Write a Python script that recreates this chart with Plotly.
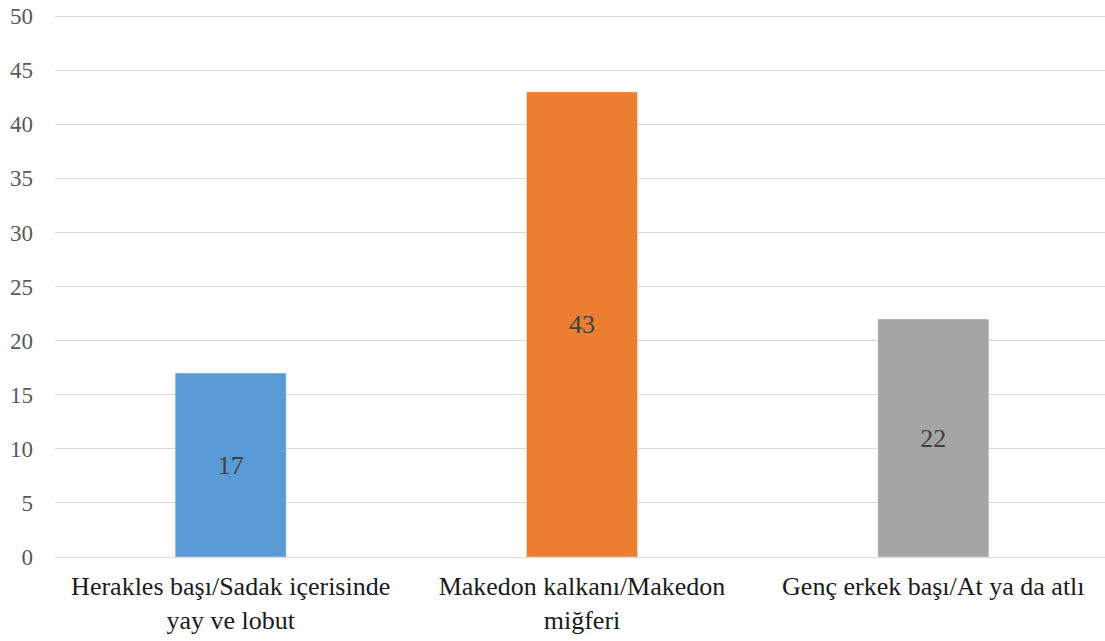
import plotly.graph_objects as go

categories = ["Herakles başı/Sadak içerisinde<br>yay ve lobut",
              "Makedon kalkanı/Makedon<br>miğferi",
              "Genç erkek başı/At ya da atlı"]
values = [17, 43, 22]
colors = ["#5B9BD5", "#ED7D31", "#A5A5A5"]
y_ticks = [0, 5, 10, 15, 20, 25, 30, 35, 40, 45, 50]

FONT = "Times New Roman"

fig = go.Figure(go.Bar(
    x=categories, y=values, marker_color=colors,
    text=[str(v) for v in values], textposition="inside",
    insidetextanchor="middle",
    textfont=dict(family=FONT, size=26, color="#404040"),
    hoverinfo="skip",
))

fig.update_layout(
    width=1113, height=641,
    margin=dict(l=55, r=4, t=14, b=84),
    paper_bgcolor="white", plot_bgcolor="white",
    bargap=0.684, showlegend=False,
    font=dict(family=FONT),
)
fig.update_yaxes(range=[0, 50.2], tickvals=y_ticks, showgrid=True,
                 gridcolor="#D9D9D9", gridwidth=1, zeroline=False,
                 showline=False, ticks="", ticklabelstandoff=21,
                 automargin=False, ticklabeloverflow="allow",
                 tickfont=dict(family=FONT, size=23, color="#595959"))
fig.update_xaxes(showline=True, linecolor="#D9D9D9", linewidth=1,
                 ticks="", ticklabelstandoff=6, automargin=False,
                 ticklabeloverflow="allow",
                 tickfont=dict(family=FONT, size=26, color="#1a1a1a"))

fig.write_html(
    "out.html",
    config={"displayModeBar": False},
    post_script="document.body.style.margin='0';document.body.style.overflow='hidden';",
)
